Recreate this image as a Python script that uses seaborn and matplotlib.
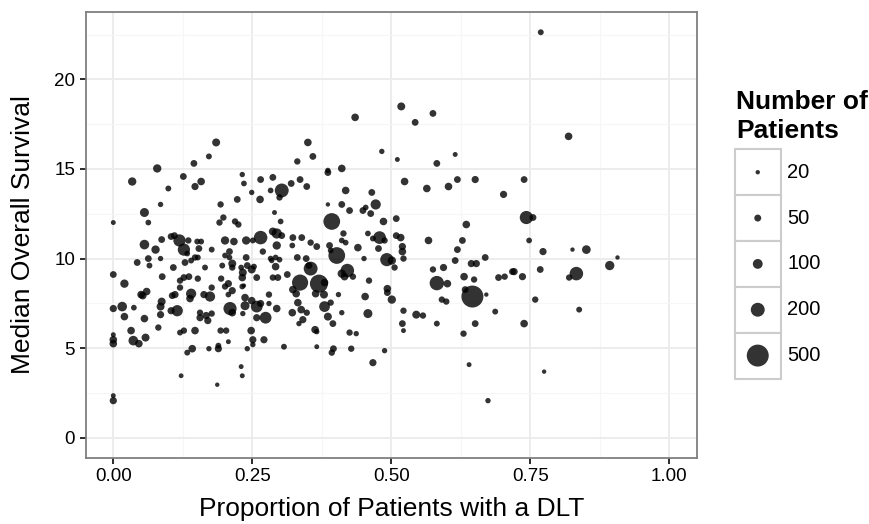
import numpy as np
import pandas as pd
import matplotlib
matplotlib.use("Agg")
import matplotlib.pyplot as plt
from matplotlib.patches import Rectangle
from matplotlib.ticker import MultipleLocator
import seaborn as sns

sns.set_theme(style="whitegrid")
plt.rcParams['font.family'] = ['Liberation Sans', 'DejaVu Sans']

# ---------------- data ----------------
dlt_prop = [
    0.079, 0.145, 0.172, 0.185, 0.331, 0.350, 0.359, 0.386, 0.411, 0.435,
    0.483, 0.769, 0.518, 0.543, 0.575, 0.511, 0.582, 0.615, 0.819, 0.034,
    0.126, 0.158, 0.147, 0.099, 0.232, 0.235, 0.085, 0.056, 0.193, 0.223,
    0.000, 0.063, 0.198, 0.191, 0.219, 0.225, 0.056, 0.087, 0.076, 0.104,
    0.110, 0.119, 0.127, 0.135, 0.151, 0.158, 0.154, 0.177, 0.201, 0.217,
    0.209, 0.043, 0.063, 0.085, 0.065, 0.108, 0.129, 0.140, 0.147, 0.152,
    0.133, 0.165, 0.196, 0.201, 0.209, 0.214, 0.214, 0.230, 0.000, 0.088,
    0.127, 0.136, 0.152, 0.194, 0.386, 0.265, 0.287, 0.320, 0.336, 0.348,
    0.303, 0.283, 0.299, 0.249, 0.264, 0.418, 0.465, 0.472, 0.411, 0.386,
    0.425, 0.449, 0.454, 0.463, 0.290, 0.393, 0.486, 0.509, 0.301, 0.287,
    0.294, 0.303, 0.265, 0.239, 0.251, 0.323, 0.339, 0.294, 0.322, 0.355,
    0.366, 0.389, 0.414, 0.411, 0.418, 0.458, 0.467, 0.479, 0.488, 0.509,
    0.477, 0.391, 0.440, 0.239, 0.269, 0.283, 0.292, 0.299, 0.331, 0.347,
    0.402, 0.451, 0.492, 0.506, 0.241, 0.253, 0.292, 0.285, 0.352, 0.355,
    0.421, 0.411, 0.233, 0.249, 0.258, 0.296, 0.336, 0.370, 0.524, 0.564,
    0.603, 0.619, 0.651, 0.702, 0.739, 0.743, 0.755,
    0.635, 0.517, 0.520, 0.520, 0.522, 0.567, 0.628, 0.619, 0.615, 0.644,
    0.653, 0.669, 0.748, 0.773, 0.826, 0.851, 0.907, 0.893, 0.833, 0.820,
    0.768, 0.736, 0.721, 0.718, 0.704, 0.693, 0.575, 0.594, 0.501, 0.582,
    0.631, 0.649, 0.601, 0.646, 0.633, 0.671, 0.501, 0.591, 0.599, 0.759,
    0.522, 0.545, 0.557, 0.687, 0.838, 0.520, 0.522, 0.582, 0.651, 0.739,
    0.630, 0.640, 0.775, 0.674, 0.020, 0.050, 0.060, 0.053, 0.016, 0.000,
    0.020, 0.037, 0.056, 0.087, 0.085, 0.085, 0.104, 0.115, 0.081, 0.106,
    0.111, 0.120, 0.120, 0.140, 0.138, 0.163, 0.174, 0.177, 0.201, 0.207,
    0.214, 0.207, 0.232, 0.232, 0.210, 0.214, 0.156, 0.156, 0.167, 0.170,
    0.177, 0.000, 0.000, 0.000, 0.032, 0.036, 0.046, 0.058, 0.120, 0.127,
    0.147, 0.193, 0.203, 0.207, 0.133, 0.142, 0.172, 0.189, 0.189, 0.230,
    0.232, 0.122, 0.187, 0.235, 0.287, 0.313, 0.323, 0.329, 0.380, 0.364,
    0.379, 0.416, 0.431, 0.460, 0.405, 0.391, 0.380, 0.386, 0.395, 0.411,
    0.453, 0.493, 0.493,
    0.458, 0.237, 0.237, 0.233, 0.249, 0.258, 0.265, 0.258, 0.274, 0.280,
    0.280, 0.294, 0.322, 0.332, 0.338, 0.348, 0.341, 0.334, 0.363, 0.366,
    0.248, 0.251, 0.251, 0.271, 0.241, 0.307, 0.366, 0.396, 0.393, 0.425,
    0.437, 0.428, 0.488, 0.467, 0.000, 0.000,
]

median_os = [
    15.03, 15.31, 15.70, 16.48, 15.42, 16.48, 15.70, 14.92, 15.03, 17.88,
    15.98, 22.63, 18.49, 17.60, 18.10, 15.53, 15.31, 15.81, 16.82, 14.30,
    14.58, 14.30, 14.02, 13.91, 14.69, 14.19, 13.02, 12.57, 13.02, 13.30,
    12.01, 12.01, 12.29, 12.01, 12.07, 11.90, 10.78, 11.06, 10.50, 11.23,
    11.28, 11.01, 10.50, 11.01, 10.95, 10.95, 10.56, 10.50, 11.01, 10.95,
    10.39, 9.78, 10.00, 10.00, 9.61, 9.50, 9.78, 9.89, 10.06, 10.06,
    10.28, 9.50, 9.61, 10.17, 10.06, 9.72, 9.50, 9.50, 9.11, 8.99,
    8.94, 8.99, 8.88, 8.88, 14.80, 14.41, 14.53, 14.19, 14.41, 14.02,
    13.80, 13.80, 13.41, 13.69, 13.30, 13.80, 13.69, 13.02, 13.02, 13.02,
    12.68, 12.68, 12.85, 12.51, 12.57, 12.07, 12.07, 12.23, 12.07, 11.51,
    11.40, 11.28, 11.17, 11.01, 11.01, 11.17, 11.17, 10.73, 10.73, 10.89,
    10.67, 10.73, 11.40, 11.01, 10.89, 11.40, 11.12, 11.17, 11.01, 11.28,
    10.56, 10.45, 10.61, 10.06, 10.39, 10.00, 10.06, 9.94, 10.06, 10.00,
    10.17, 10.00, 9.94, 9.50, 9.61, 9.55, 9.55, 9.89, 9.61, 9.44,
    9.33, 9.16, 9.22, 9.39, 8.94, 8.94, 8.66, 8.60, 14.30, 13.91,
    14.02, 14.41, 14.41, 13.58, 14.41, 12.29, 12.29,
    11.90, 11.17, 10.67, 10.39, 10.00, 11.01, 11.01, 10.50, 9.89, 9.72,
    9.72, 10.06, 11.01, 10.39, 10.50, 10.50, 10.06, 9.61, 9.16, 8.94,
    9.39, 8.99, 9.27, 9.27, 8.99, 8.94, 9.39, 9.50, 9.89, 8.63,
    8.99, 8.83, 8.60, 7.88, 8.27, 7.99, 7.71, 7.71, 7.60, 7.71,
    7.09, 6.87, 6.82, 7.04, 7.15, 6.37, 5.98, 6.37, 6.37, 6.37,
    5.81, 4.08, 3.69, 2.07, 8.60, 7.99, 8.16, 7.93, 7.32, 7.21,
    6.76, 7.26, 6.65, 7.60, 7.32, 6.87, 7.09, 7.09, 6.15, 7.93,
    7.99, 8.38, 8.77, 8.04, 7.77, 7.99, 7.88, 8.38, 8.44, 8.60,
    8.21, 7.99, 8.94, 8.44, 7.21, 6.98, 6.98, 6.70, 6.82, 6.54,
    6.93, 5.75, 5.47, 5.25, 5.98, 5.42, 5.25, 5.59, 5.87, 5.98,
    5.98, 5.98, 5.98, 5.36, 4.75, 4.97, 4.97, 5.14, 4.97, 3.97,
    3.46, 3.46, 2.96, 8.49, 8.94, 9.11, 8.27, 8.04, 8.66, 8.04,
    7.99, 8.99, 8.99, 8.77, 7.99, 7.54, 7.32, 6.76, 6.37, 6.98,
    7.88, 8.32, 8.10,
    6.93, 7.82, 7.37, 6.93, 7.65, 7.32, 7.49, 6.70, 6.70, 7.99,
    7.49, 7.21, 6.98, 7.54, 7.15, 6.98, 6.59, 6.37, 6.03, 5.92,
    5.98, 5.47, 5.20, 5.47, 4.97, 5.08, 5.08, 4.97, 4.75, 5.87,
    5.81, 4.97, 4.86, 4.19, 2.35, 2.07,
]

n_patients = [
    72, 48, 36, 66, 42, 60, 48, 30, 60, 60,
    30, 36, 66, 48, 48, 25, 48, 25, 60, 72,
    48, 60, 54, 36, 30, 34, 30, 84, 42, 48,
    25, 34, 42, 42, 42, 42, 96, 48, 72, 48,
    48, 156, 156, 42, 36, 36, 48, 36, 72, 60,
    48, 48, 48, 30, 36, 48, 48, 36, 42, 36,
    34, 36, 36, 34, 34, 66, 42, 34, 48, 48,
    48, 48, 42, 42, 48, 48, 48, 48, 48, 48,
    200, 34, 42, 30, 60, 60, 48, 108, 48, 18,
    48, 48, 34, 48, 25, 290, 60, 48, 34, 66,
    108, 48, 190, 72, 36, 48, 48, 72, 34, 42,
    48, 48, 42, 34, 34, 34, 36, 168, 42, 48,
    48, 34, 60, 48, 42, 34, 34, 34, 48, 48,
    290, 30, 180, 42, 48, 36, 60, 30, 48, 200,
    190, 72, 66, 66, 48, 48, 270, 340, 60, 60,
    60, 48, 54, 54, 48, 180, 48,
    60, 60, 54, 60, 42, 60, 48, 48, 48, 54,
    54, 48, 34, 54, 18, 78, 15, 90, 190, 42,
    48, 54, 54, 48, 42, 48, 42, 54, 72, 215,
    60, 42, 60, 500, 48, 18, 72, 42, 42, 42,
    42, 66, 42, 36, 36, 48, 25, 36, 48, 60,
    42, 25, 15, 30, 72, 60, 60, 60, 96, 54,
    60, 34, 60, 66, 66, 54, 54, 132, 42, 48,
    54, 42, 42, 108, 60, 54, 108, 42, 42, 54,
    54, 34, 60, 34, 180, 60, 42, 54, 54, 54,
    42, 25, 60, 60, 60, 96, 60, 66, 36, 42,
    60, 42, 42, 25, 36, 60, 30, 36, 54, 25,
    25, 24, 18, 18, 42, 48, 60, 60, 60, 60,
    66, 60, 42, 42, 30, 42, 120, 66, 48, 30,
    60, 60, 48,
    84, 60, 84, 30, 60, 144, 54, 54, 144, 42,
    30, 60, 60, 60, 60, 42, 54, 30, 60, 30,
    60, 54, 30, 54, 30, 36, 25, 48, 42, 42,
    30, 42, 30, 54, 25, 54,
]

x_ticks = [0.0, 0.25, 0.5, 0.75, 1.0]
x_tick_labels = ["0.00", "0.25", "0.50", "0.75", "1.00"]
y_ticks = [0, 5, 10, 15, 20]
y_tick_labels = ["0", "5", "10", "15", "20"]
legend_sizes = [20, 50, 100, 200, 500]
legend_labels = ["20", "50", "100", "200", "500"]

x_title = "Proportion of Patients with a DLT"
y_title = "Median Overall Survival"
legend_title = ["Number of", "Patients"]

df = pd.DataFrame({"dlt": dlt_prop, "os": median_os, "n": n_patients})

# ---------------- figure ----------------
W, H = 869, 524
fig = plt.figure(figsize=(W / 100, H / 100), dpi=100)
fig.patch.set_facecolor("white")

pl, pr, pt, pb = 85.5, 697.0, 12.0, 458.0
ax = fig.add_axes([pl / W, 1 - pb / H, (pr - pl) / W, (pb - pt) / H])
ax.set_facecolor("white")

SIZES = (10, 250)
NORM = (20, 500)
sns.scatterplot(data=df, x="dlt", y="os", size="n", sizes=SIZES, size_norm=NORM,
                color="black", alpha=0.8, linewidth=0, legend=False, ax=ax, zorder=3)

ax.set_xlim(-0.05, 1.05)
ax.set_ylim(-1.13, 23.76)
ax.set_xticks(x_ticks)
ax.set_xticklabels(x_tick_labels)
ax.set_yticks(y_ticks)
ax.set_yticklabels(y_tick_labels)
ax.xaxis.set_minor_locator(MultipleLocator(0.125))
ax.yaxis.set_minor_locator(MultipleLocator(2.5))

ax.grid(which="major", color="#EBEBEB", linewidth=1.3, zorder=0)
ax.grid(which="minor", color="#F6F6F6", linewidth=0.8, zorder=0)
ax.set_axisbelow(True)
for s in ax.spines.values():
    s.set_visible(True)
    s.set_color("#7F7F7F")
    s.set_linewidth(1.3)

ax.tick_params(which="major", bottom=True, left=True, length=4.5, width=1.3,
               color="#1A1A1A", labelsize=13.5, labelcolor="black", pad=3)
ax.tick_params(which="minor", bottom=False, left=False, length=0)

ax.set_xlabel(x_title, fontsize=19, color="black")
ax.set_ylabel(y_title, fontsize=19, color="black")
ax.xaxis.set_label_coords(0.5, -0.087)
ax.yaxis.set_label_coords(-0.082, 0.5)

# ---------------- legend (ggplot style with boxed keys) ----------------
lx0, lx1, ly0, ly1 = 734.5, 781.0, 149.3, 378.5
lax = fig.add_axes([lx0 / W, 1 - ly1 / H, (lx1 - lx0) / W, (ly1 - ly0) / H])
for i in range(len(legend_sizes)):
    lax.add_patch(Rectangle((0, len(legend_sizes) - 1 - i), 1, 1, facecolor="white",
                            edgecolor="#CCCCCC", linewidth=1.5, clip_on=False, zorder=1))
leg_df = pd.DataFrame({"x": [0.5] * len(legend_sizes),
                       "y": [len(legend_sizes) - 0.5 - i for i in range(len(legend_sizes))],
                       "n": legend_sizes})
sns.scatterplot(data=leg_df, x="x", y="y", size="n", sizes=SIZES, size_norm=NORM,
                color="black", alpha=0.8, linewidth=0, legend=False, ax=lax, zorder=3)
lax.set_xlim(0, 1)
lax.set_ylim(0, len(legend_sizes))
lax.axis("off")

row_h = (ly1 - ly0) / len(legend_sizes)
for i, lab in enumerate(legend_labels):
    yc = ly0 + row_h * (i + 0.5)
    fig.text(787.5 / W, 1 - yc / H, lab, fontsize=14.5, va="center", ha="left", color="black")

fig.text(736 / W, 1 - 109.3 / H, legend_title[0], fontsize=19, fontweight="bold",
         va="baseline", ha="left", color="black")
fig.text(736 / W, 1 - 138.3 / H, legend_title[1], fontsize=19, fontweight="bold",
         va="baseline", ha="left", color="black")

fig.savefig("out.png", dpi=100, facecolor="white")
